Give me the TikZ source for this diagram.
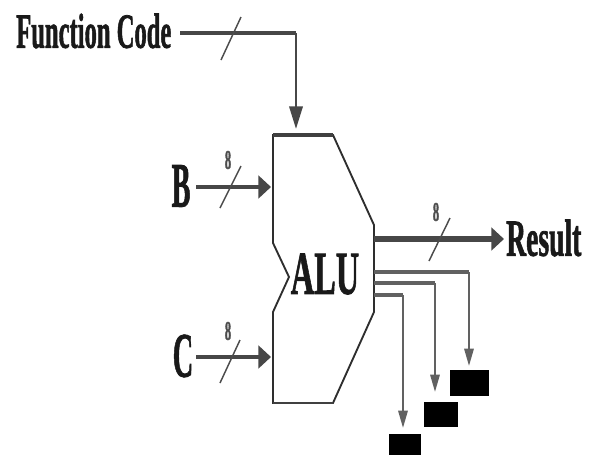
\documentclass[tikz,border=0pt]{standalone}
\usepackage{fontspec}
\setmainfont{Liberation Serif}[BoldFeatures={FakeBold=1.6}]
\usetikzlibrary{arrows.meta}
\tikzset{
  bus/.style={draw=black!72,line width=3.6pt,-{Triangle[length=9.5pt,width=17pt]}},
  thinbus/.style={draw=black!62,line width=1.6pt},
  slashmark/.style={draw=black!70,line width=1.1pt},
  alushape/.style={draw=black!82,line width=1.4pt,line join=miter},
  lab/.style={inner sep=0pt,text=black!90},
  eight/.style={font=\bfseries\fontsize{12}{12}\selectfont,inner sep=0pt,text=black!70,yscale=1.7,xscale=.8},
  flag/.style={fill=black,draw=none,inner sep=0pt}
}
\begin{document}
\begin{tikzpicture}[x=0.75pt,y=-0.75pt]
\useasboundingbox (0,0) rectangle (590,468);
% ALU body
\draw[alushape] (273,135) -- (333,135) -- (374,225) -- (374,312) -- (333,403) -- (273,403) -- (273,312) -- (289,277) -- (273,243) -- cycle;
\draw[draw=black!75,line width=3.4pt] (273,135) -- (333,135);
\draw[draw=black!75,line width=2.2pt] (273,403) -- (333,403);
\node[lab,xscale=.9,yscale=1.7,font=\bfseries\fontsize{27}{27}\selectfont] (alu) at (325,274) {ALU};
% labels
\node[lab,xscale=.9,yscale=1.8,font=\bfseries\fontsize{20.5}{20}\selectfont,anchor=west] (fc) at (16,31) {Function Code};
\node[lab,xscale=.85,yscale=1.9,font=\bfseries\fontsize{25}{25}\selectfont] (b) at (181,186) {B};
\node[lab,xscale=.85,yscale=1.9,font=\bfseries\fontsize{25}{25}\selectfont] (c) at (183,356) {C};
\node[lab,xscale=.9,yscale=1.7,font=\bfseries\fontsize{23}{23}\selectfont,anchor=west] (res) at (506,238) {Result};
% connector end points
\coordinate (fcs) at (180,33);
\coordinate (fcc) at (296,33);
\coordinate (fce) at (296,129);
\coordinate (bs) at (196,187);
\coordinate (be) at (271,187);
\coordinate (cs) at (196,357);
\coordinate (ce) at (271,357);
\coordinate (rs) at (374,239);
\coordinate (re) at (504,239);
% flag boxes
\node[flag,minimum width=29.25pt,minimum height=19.5pt] (f1) at (469.5,383) {};
\node[flag,minimum width=25.5pt,minimum height=18.75pt] (f2) at (441,414.5) {};
\node[flag,minimum width=24pt,minimum height=15.75pt] (f3) at (405,444.5) {};
\coordinate (o1) at (374,272);
\coordinate (o2) at (374,283);
\coordinate (o3) at (374,295);
\coordinate (c1) at (469,272);
\coordinate (c2) at (435,283);
\coordinate (c3) at (403,295);
\coordinate (t1) at (469,366);
\coordinate (t2) at (435,392);
\coordinate (t3) at (403,428);
% buses
\draw[draw=black!72,line width=3.6pt] (fcs) -- (fcc);
\draw[draw=black!72,line width=1.9pt,-{Triangle[length=17pt,width=10pt]}] (fcc) -- (fce);
\draw[bus] (bs) -- (be);
\draw[bus] (cs) -- (ce);
\draw[bus,line width=4.6pt] (rs) -- (re);
\draw[draw=black!62,line width=3.4pt] (o1) -- (c1);
\draw[draw=black!62,line width=3pt] (o2) -- (c2);
\draw[draw=black!62,line width=3pt] (o3) -- (c3);
\draw[thinbus,-{Triangle[length=13pt,width=7pt]}] (c1) -- (t1);
\draw[thinbus,-{Triangle[length=13pt,width=7pt]}] (c2) -- (t2);
\draw[thinbus,-{Triangle[length=13pt,width=7pt]}] (c3) -- (t3);
% bus-width marks
\coordinate (s1a) at (221,60); \coordinate (s1b) at (241,17);
\coordinate (s2a) at (220,208); \coordinate (s2b) at (241,166);
\coordinate (s3a) at (220,383); \coordinate (s3b) at (240,340);
\coordinate (s4a) at (429,261); \coordinate (s4b) at (450,218);
\draw[slashmark] (s1a) -- (s1b);
\draw[slashmark] (s2a) -- (s2b);
\draw[slashmark] (s3a) -- (s3b);
\draw[slashmark] (s4a) -- (s4b);
\node[eight] (w1) at (228,160) {8};
\node[eight] (w2) at (228,331) {8};
\node[eight] (w3) at (436,212) {8};
\end{tikzpicture}
\end{document}
